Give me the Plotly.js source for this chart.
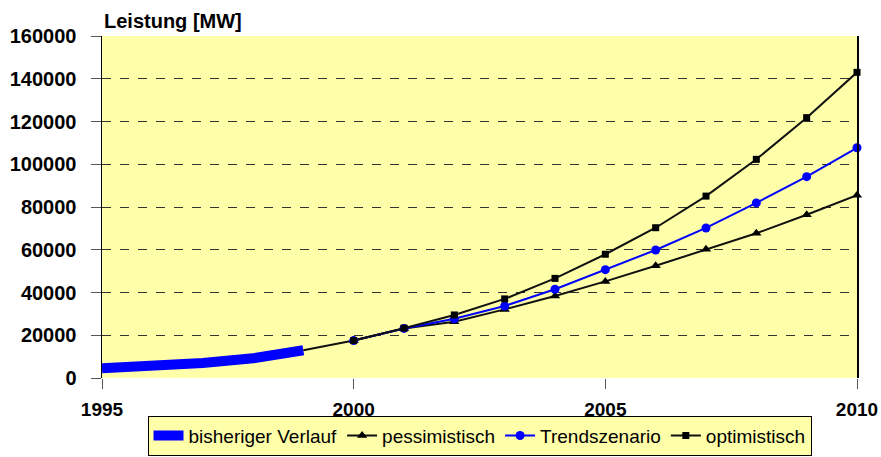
<!DOCTYPE html>
<html>
<head>
<meta charset="utf-8">
<script src="https://cdn.plot.ly/plotly-3.0.1.min.js"></script>
<style>html,body{margin:0;padding:0;background:#fff;}#chart{width:881px;height:457px;}</style>
</head>
<body>
<div id="chart"></div>
<script>
// Data
const histYears = [1995, 1996, 1997, 1998, 1999];
const histValues = [4600, 5700, 7000, 9200, 13000];

const scenYears = [2000, 2001, 2002, 2003, 2004, 2005, 2006, 2007, 2008, 2009, 2010];
const pessimistisch = [17500, 23200, 26300, 32100, 38400, 45200, 52500, 60200, 67700, 76400, 85500];
const trendszenario = [17500, 23200, 27700, 33700, 41500, 50700, 59900, 70200, 81900, 94200, 107700];
const optimistisch  = [17500, 23300, 29500, 37000, 46600, 57900, 70300, 85100, 102300, 121800, 143000];

const seriesNames = ['bisheriger Verlauf', 'pessimistisch', 'Trendszenario', 'optimistisch'];
const yTicks = [0, 20000, 40000, 60000, 80000, 100000, 120000, 140000, 160000];
const xTicks = [1995, 2000, 2005, 2010];

const FONT = 'Liberation Sans, Arial, sans-serif';
const YELLOW = '#ffffaa';

const traces = [
  {x: histYears, y: histValues, name: seriesNames[0], mode: 'lines',
   line: {color: '#0000ff', width: 10}},
  {x: [histYears[histYears.length-1], scenYears[0]], y: [histValues[histValues.length-1], pessimistisch[0]],
   mode: 'lines', showlegend: false, hoverinfo: 'skip', line: {color: '#111', width: 2}},
  {x: scenYears, y: pessimistisch, name: seriesNames[1], mode: 'lines+markers', cliponaxis: false,
   line: {color: '#111', width: 2}, marker: {symbol: 'triangle-up', size: 9, color: '#000'}},
  {x: scenYears, y: trendszenario, name: seriesNames[2], mode: 'lines+markers', cliponaxis: false,
   line: {color: '#0000ff', width: 2}, marker: {symbol: 'circle', size: 9, color: '#0000ff'}},
  {x: scenYears, y: optimistisch, name: seriesNames[3], mode: 'lines+markers', cliponaxis: false,
   line: {color: '#111', width: 2}, marker: {symbol: 'square', size: 7, color: '#000'}}
];

const layout = {
  width: 881, height: 457,
  margin: {l: 102, r: 24, t: 36, b: 79, autoexpand: false},
  paper_bgcolor: '#ffffff',
  plot_bgcolor: YELLOW,
  font: {family: FONT, color: '#000'},
  showlegend: true,
  xaxis: {
    range: [1995, 2010], tickvals: xTicks, ticktext: xTicks.map(String),
    showgrid: false, zeroline: false, showline: false,
    ticks: 'outside', ticklen: 10, tickcolor: '#555', tickwidth: 1,
    ticklabelstandoff: 4, automargin: false,
    tickfont: {family: FONT, size: 19, weight: 'bold', color: '#000'}
  },
  yaxis: {
    range: [0, 160000], tickvals: yTicks, ticktext: yTicks.map(String),
    showgrid: true, gridcolor: '#333', griddash: 'dash', gridwidth: 1,
    zeroline: false, showline: true, linecolor: '#000', linewidth: 1.5, mirror: true,
    ticks: 'outside', ticklen: 10, tickcolor: '#555', tickwidth: 1,
    ticklabelstandoff: 10, automargin: false,
    tickfont: {family: FONT, size: 20, weight: 'bold', color: '#000'}
  },
  legend: {
    orientation: 'h', x: 0.5, xanchor: 'center',
    yref: 'container', y: 0.003, yanchor: 'bottom',
    bgcolor: YELLOW, bordercolor: '#000', borderwidth: 1,
    font: {family: FONT, size: 19, color: '#000'},
    itemwidth: 30, tracegroupgap: 0
  },
  annotations: [{
    text: 'Leistung [MW]', xref: 'paper', yref: 'paper', x: 0, y: 1.044,
    xanchor: 'left', yanchor: 'middle', showarrow: false,
    font: {family: FONT, size: 20, weight: 'bold', color: '#000'}
  }]
};

Plotly.newPlot('chart', traces, layout, {displayModeBar: false, staticPlot: true});
</script>
</body>
</html>
